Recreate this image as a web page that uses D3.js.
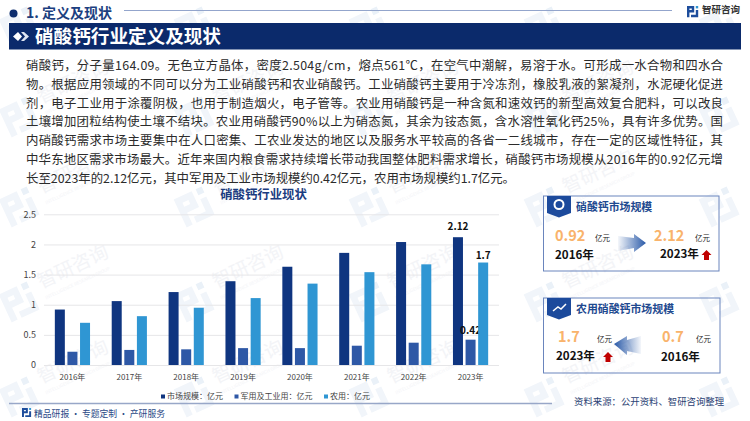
<!DOCTYPE html>
<html>
<head>
<meta charset="utf-8">
<script src="https://cdn.jsdelivr.net/npm/d3@7"></script>
<style>
html, body { margin: 0; padding: 0; background: #fff; }
svg { display: block; }
text { font-family: "Noto Sans CJK SC", "Noto Sans", sans-serif; }
</style>
</head>
<body>
<svg id="chart" width="750" height="421"></svg>
<script>
let years = ["2016年", "2017年", "2018年", "2019年", "2020年", "2021年", "2022年", "2023年"];
let seriesNames = ["市场规模：亿元", "军用及工业用：亿元", "农用：亿元"];
let marketValues = [0.92, 1.06, 1.21, 1.39, 1.63, 1.86, 2.04, 2.12];
let militaryValues = [0.22, 0.25, 0.26, 0.28, 0.28, 0.32, 0.37, 0.42];
let farmValues = [0.70, 0.81, 0.95, 1.11, 1.35, 1.54, 1.67, 1.70];
let yTicks = [0, 0.5, 1, 1.5, 2, 2.5];
let seriesColors = ["#0f3580", "#2e58a6", "#2f96d3"];

let bodyLines = [
    "硝酸钙，分子量164.09。无色立方晶体，密度2.504g/cm，熔点561℃，在空气中潮解，易溶于水。可形成一水合物和四水合",
    "物。根据应用领域的不同可以分为工业硝酸钙和农业硝酸钙。工业硝酸钙主要用于冷冻剂，橡胶乳液的絮凝剂，水泥硬化促进",
    "剂，电子工业用于涂覆阴极，也用于制造烟火，电子管等。农业用硝酸钙是一种含氮和速效钙的新型高效复合肥料，可以改良",
    "土壤增加团粒结构使土壤不结块。农业用硝酸钙90%以上为硝态氮，其余为铵态氮，含水溶性氧化钙25%，具有许多优势。国",
    "内硝酸钙需求市场主要集中在人口密集、工农业发达的地区以及服务水平较高的各省一二线城市，存在一定的区域性特征，其",
    "中华东地区需求市场最大。近年来国内粮食需求持续增长带动我国整体肥料需求增长，硝酸钙市场规模从2016年的0.92亿元增",
    "长至2023年的2.12亿元，其中军用及工业市场规模约0.42亿元，农用市场规模约1.7亿元。"
];

let svg = d3.select("#chart");
let defs = svg.append("defs");

function addText(parent, x, y, str, size, color, weight, anchor) {
    return parent.append("text")
        .attr("x", x)
        .attr("y", y)
        .attr("dy", "0.35em")
        .attr("font-size", size)
        .attr("fill", color)
        .attr("font-weight", weight || "normal")
        .attr("text-anchor", anchor || "start")
        .text(str);
}

// company logo, drawn in a 16x14 box
function drawLogo(parent, x, y, scale, colorA, colorB) {
    let g = parent.append("g").attr("transform", "translate(" + x + "," + y + ") scale(" + scale + ")");
    g.append("path").attr("fill", colorA).attr("d", "M0 0H9V8H3V14H0V0ZM3 3V5H6V3Z");
    g.append("rect").attr("x", 11).attr("y", 0).attr("width", 3).attr("height", 3).attr("fill", colorB);
    g.append("path").attr("fill", colorA).attr("d", "M11 5H14V14H5V11H11Z");
}

// background watermark, the words only where they fit on the page
let wmX = [20, 195, 370, 545, 720];
let wmY = [25, 115, 205, 300, 395];
let wm = svg.append("g");
wmX.forEach(function (x) {
    wmY.forEach(function (y) {
        let one = wm.append("g").attr("transform", "translate(" + x + "," + y + ") rotate(-25)");
        drawLogo(one, -17, -14, 2.2, "#f1f5fa", "#eaf1f8");
        if (y > 25 && x < 720) {
            addText(one, 24, -8, "智研咨询", 19, "#f3f4f7");
            addText(one, 24, 9, "INTELLIGENCE RESEARCH GROUP", 4.5, "#f3f4f7");
        }
    });
});

// top heading
svg.append("circle").attr("cx", 13.5).attr("cy", 13.5).attr("r", 4).attr("fill", "#0d2d6e");
addText(svg, 26, 13, "1. 定义及现状", 14, "#1c3f80", "bold");
svg.append("line").attr("x1", 124).attr("x2", 672).attr("y1", 10.5).attr("y2", 10.5)
    .attr("stroke", "#93a5cc").attr("stroke-width", 1);
drawLogo(svg, 687, 6, 0.8, "#1d4d9c", "#2f96d3");
addText(svg, 702, 10, "智研咨询", 9.5, "#333", "bold");

// banner
svg.append("rect").attr("x", 9).attr("y", 23).attr("width", 732).attr("height", 26.5).attr("fill", "#0b2a6b");
svg.append("path").attr("fill", "#fff").attr("d", "M13 36.5l5-4.5 4 4.5-4 4.5z");
svg.append("path").attr("fill", "#dfe6f2").attr("d", "M21 32h3l5 4.5-5 4.5h-3l4-4.5z");
addText(svg, 35, 36.5, "硝酸钙行业定义及现状", 18.6, "#fff", "bold");

// body text, justified like the slide, last line shorter
bodyLines.forEach(function (line, i) {
    let t = addText(svg, 26, 66 + i * 18.7, line, 12.4, "#2b2b2b");
    t.attr("textLength", i < bodyLines.length - 1 ? 697 : 489).attr("lengthAdjust", "spacing");
});

// bar chart
let plotLeft = 44, plotRight = 499, plotTop = 214.3, plotBottom = 365;
addText(svg, 263.5, 195, "硝酸钙行业现状", 12.4, "#1a3c80", "bold", "middle");

let x = d3.scaleBand().domain(years).range([plotLeft, plotRight]);
let y = d3.scaleLinear().domain([0, 2.5]).range([plotBottom, plotTop]);
let inner = d3.scaleBand().domain([0, 1, 2])
    .range([x.bandwidth() / 2 - 17.6, x.bandwidth() / 2 + 17.6])
    .paddingInner(0.206);

let yAxis = svg.append("g")
    .attr("transform", "translate(" + plotLeft + ",0)")
    .call(d3.axisLeft(y).tickValues(yTicks).tickFormat(function (d) { return String(d); }).tickSize(-(plotRight - plotLeft)).tickPadding(8));
yAxis.select(".domain").remove();
yAxis.selectAll("line").attr("stroke", "#e6e6e8");
yAxis.selectAll("text").attr("font-size", 9).attr("fill", "#444").attr("font-family", null);

let xAxis = svg.append("g")
    .attr("transform", "translate(0," + plotBottom + ")")
    .call(d3.axisBottom(x).tickSize(0).tickPadding(9));
xAxis.select(".domain").remove();
xAxis.selectAll("text").attr("font-size", 8).attr("fill", "#444").attr("font-family", null);

let labelGaps = [11, 9.5, 7];
[marketValues, militaryValues, farmValues].forEach(function (values, s) {
    svg.append("g").selectAll("rect")
        .data(values)
        .enter()
        .append("rect")
        .attr("x", function (d, i) { return x(years[i]) + inner(s); })
        .attr("y", function (d) { return y(d); })
        .attr("width", inner.bandwidth())
        .attr("height", function (d) { return plotBottom - y(d); })
        .attr("fill", seriesColors[s]);

    // only the last year carries a value label
    let last = values.length - 1;
    addText(svg, x(years[last]) + inner(s) + inner.bandwidth() / 2, y(values[last]) - labelGaps[s],
        String(values[last]), 10, "#111", "bold", "middle");
});

// legend
let legendX = [161, 234.5, 324];
seriesNames.forEach(function (name, i) {
    svg.append("rect").attr("x", legendX[i]).attr("y", 394.5).attr("width", 4).attr("height", 4).attr("fill", seriesColors[i]);
    addText(svg, legendX[i] + 6, 396.5, name, 8, "#444");
});

// footer
svg.append("line").attr("x1", 9).attr("x2", 552).attr("y1", 403.5).attr("y2", 403.5)
    .attr("stroke", "#98a7c8").attr("stroke-width", 1.5);
drawLogo(svg, 22, 408, 0.65, "#1d4d9c", "#2f96d3");
addText(svg, 34, 413.5, "精品研报 · 专题定制 · 产研服务", 9.4, "#2b4a87")
    .attr("textLength", 131).attr("lengthAdjust", "spacingAndGlyphs");
addText(svg, 574, 402, "资料来源：公开资料、智研咨询整理", 9.4, "#2b3f74");

// side cards
let grad = defs.append("linearGradient").attr("id", "arrowRight");
grad.append("stop").attr("offset", "0%").attr("stop-color", "#2a5aa8").attr("stop-opacity", 0.05);
grad.append("stop").attr("offset", "100%").attr("stop-color", "#2a5aa8");
let gradL = defs.append("linearGradient").attr("id", "arrowLeft");
gradL.append("stop").attr("offset", "0%").attr("stop-color", "#2a5aa8");
gradL.append("stop").attr("offset", "100%").attr("stop-color", "#2a5aa8").attr("stop-opacity", 0.05);

function drawCard(top, w, title) {
    svg.append("rect").attr("x", 543.5).attr("y", top).attr("width", w).attr("height", 75)
        .attr("fill", "none").attr("stroke", "#6a85bd").attr("stroke-width", 1);
    svg.append("path").attr("fill", "#1c4a9c")
        .attr("d", "M547 " + top + "h24v17l-12 4.5l-12-4.5z");
    addText(svg, 576, top + 11, title, 10.9, "#1f4a90", "bold");
}

function redArrow(cx, top) {
    svg.append("path").attr("fill", "#c00000")
        .attr("d", "M" + cx + " " + top + "l5 5h-2.5v5h-5v-5h-2.5z");
}

drawCard(196, 175.5, "硝酸钙市场规模");
svg.append("circle").attr("cx", 559).attr("cy", 204.5).attr("r", 4.5).attr("fill", "none").attr("stroke", "#fff").attr("stroke-width", 2);
addText(svg, 555, 236, "0.92", 14.5, "#f9b36b", "bold");
addText(svg, 595, 238, "亿元", 7.5, "#222");
addText(svg, 555, 254.5, "2016年", 11.6, "#111", "bold");
svg.append("path").attr("fill", "url(#arrowRight)").attr("d", "M618 236l16 2v-4l12 9-12 9v-4l-16 3z");
addText(svg, 654, 236, "2.12", 14.5, "#f9b36b", "bold");
addText(svg, 695, 238, "亿元", 7.5, "#222");
addText(svg, 660, 253.5, "2023年", 11.6, "#111", "bold");
redArrow(706.5, 250);

drawCard(298, 176.5, "农用硝酸钙市场规模");
svg.append("path").attr("fill", "none").attr("stroke", "#fff").attr("stroke-width", 1.5).attr("d", "M553 311l5-4 3 2 5-5");
addText(svg, 558, 337, "1.7", 14.5, "#f9b36b", "bold");
addText(svg, 597, 339, "亿元", 7.5, "#222");
addText(svg, 556, 356, "2023年", 11.6, "#111", "bold");
redArrow(608, 352);
svg.append("path").attr("fill", "url(#arrowLeft)").attr("d", "M614 344l13-8v4l14-4v18l-14-3v4z");
addText(svg, 662, 337, "0.7", 14.5, "#f9b36b", "bold");
addText(svg, 696, 339, "亿元", 7.5, "#222");
addText(svg, 661, 357, "2016年", 11.6, "#111", "bold");
</script>
</body>
</html>
